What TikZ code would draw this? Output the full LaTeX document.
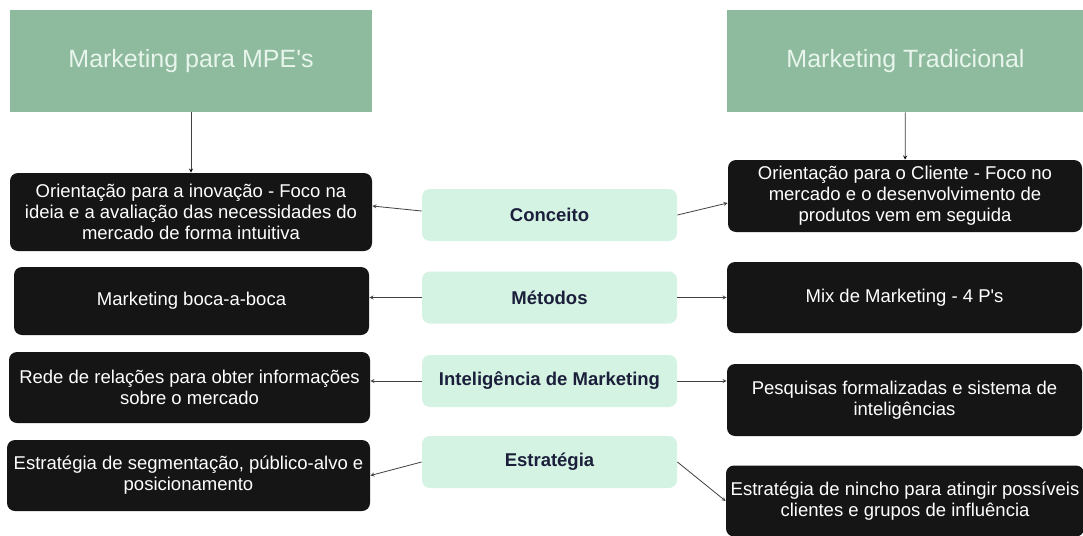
\documentclass[tikz,border=0pt]{standalone}
\usepackage{fontspec}
\setmainfont{Liberation Sans}
\usetikzlibrary{arrows}

\definecolor{headgreen}{HTML}{8EBA9E}
\definecolor{headtext}{HTML}{E8F5EC}
\definecolor{mint}{HTML}{D5F3E3}
\definecolor{navy}{HTML}{1B1F3B}
\definecolor{boxblack}{HTML}{151515}

\begin{document}
\begin{tikzpicture}[
            x = 1pt, y = -1pt, % pixel grid, y pointing down
            > = stealth, % arrow head style
            line width = 0.8pt % line style
        ]

        \tikzstyle{head}=[
            fill = headgreen,
            text = headtext,
            font = \fontsize{25}{30}\selectfont,
            minimum height = 102pt,
            inner sep = 0pt
        ]
        \tikzstyle{darkbox}=[
            fill = boxblack,
            text = white,
            rounded corners = 8pt,
            align = center,
            font = \fontsize{18.5}{21}\selectfont,
            inner sep = 0pt
        ]
        \tikzstyle{topic}=[
            fill = mint,
            text = navy,
            rounded corners = 8pt,
            font = \bfseries\fontsize{18.5}{21}\selectfont,
            minimum width = 255pt,
            minimum height = 52pt,
            inner sep = 0pt
        ]

        \clip (0,0) rectangle (1083,535);
        \fill[white] (0,0) rectangle (1083,535);

        \node[head, minimum width=362pt] (mpe) at (191,61) {Marketing para MPE\textquotesingle s};
        \node[head, minimum width=357pt] (trad) at (905.5,61) {Marketing Tradicional};

        \node[darkbox, minimum width=362pt, minimum height=78pt] (l1) at (191,212)
            {Orientação para a inovação - Foco na\\ideia e a avaliação das necessidades do\\mercado de forma intuitiva};
        \node[darkbox, minimum width=355pt, minimum height=68pt] (l2) at (191.5,301)
            {Marketing boca-a-boca};
        \node[darkbox, minimum width=361pt, minimum height=71pt] (l3) at (189.5,387.5)
            {Rede de relações para obter informações\\sobre o mercado};
        \node[darkbox, minimum width=363pt, minimum height=71pt] (l4) at (188.5,475.5)
            {Estratégia de segmentação, público-alvo e\\posicionamento};

        \node[topic] (t1) at (549.5,215) {Conceito};
        \node[topic] (t2) at (549.5,297.5) {Métodos};
        \node[topic] (t3) at (549.5,381) {Inteligência de Marketing};
        \node[topic] (t4) at (549.5,462) {Estratégia};

        \node[darkbox, minimum width=354pt, minimum height=72pt] (r1) at (905,196)
            {Orientação para o Cliente - Foco no\\mercado e o desenvolvimento de\\produtos vem em seguida};
        \node[darkbox, minimum width=355pt, minimum height=71pt] (r2) at (904.5,297.5)
            {Mix de Marketing - 4 P\textquotesingle s};
        \node[darkbox, minimum width=355pt, minimum height=72pt] (r3) at (904.5,400)
            {Pesquisas formalizadas e sistema de\\inteligências};
        \node[darkbox, minimum width=358pt, minimum height=71pt] (r4) at (905,501)
            {Estratégia de nincho para atingir possíveis\\clientes e grupos de influência};

        \path[->, draw=black!75] (mpe) edge node {} (l1);
        \path[->, draw=black!75] (trad) edge node {} (r1);

        \draw[->, black!75] ([yshift=4pt]t1.west) -- ([yshift=6pt]l1.east);
        \draw[->, black!75] (t1.east) -- ([yshift=-7pt]r1.west);
        \draw[->, black!75] (t2.west) -- (t2.west -| l2.east);
        \draw[->, black!75] (t2.east) -- (t2.east -| r2.west);
        \draw[->, black!75] (t3.west) -- (t3.west -| l3.east);
        \draw[->, black!75] (t3.east) -- (t3.east -| r3.west);
        \draw[->, black!75] (t4.west) -- (l4.east);
        \draw[->, black!75] (t4.east) -- (r4.west);
    \end{tikzpicture}
\end{document}
